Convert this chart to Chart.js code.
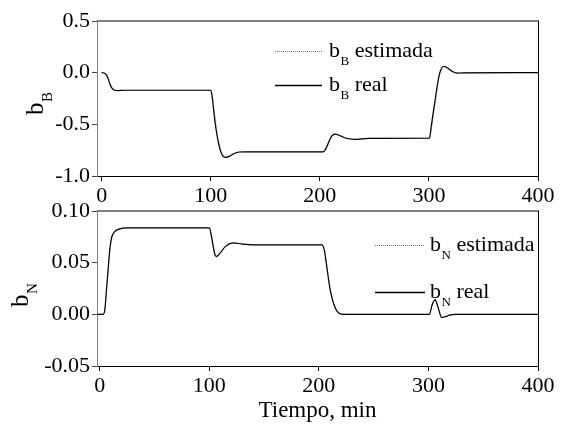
<!DOCTYPE html>
<html>
<head>
<meta charset="utf-8">
<script src="https://cdn.jsdelivr.net/npm/chart.js@4"></script>
<style>
  body { margin: 0; background: #fff; width: 564px; height: 427px; position: relative; overflow: hidden; }
  canvas { position: absolute; left: 0; }
  #chartB { top: 0; }
  #chartN { top: 200px; }
</style>
</head>
<body>
<canvas id="chartB" width="564" height="205"></canvas>
<canvas id="chartN" width="564" height="227"></canvas>
<script>
'use strict'

// datos
const tiempoB = [0, 2, 4, 6, 8, 10, 12, 15, 20,
  100, 101.5, 103, 105, 107, 109, 111, 113.5, 117, 121, 126, 132,
  203, 205, 207, 209, 211, 214, 218, 224, 232, 245,
  300.5, 302, 304, 306, 308, 310, 313.5, 317, 321, 326, 332, 400];
const realB = [0, -0.003, -0.018, -0.06, -0.125, -0.158, -0.17, -0.173, -0.17,
  -0.17, -0.25, -0.4, -0.56, -0.68, -0.76, -0.805, -0.82, -0.81, -0.785, -0.768, -0.766,
  -0.766, -0.745, -0.7, -0.65, -0.612, -0.595, -0.608, -0.635, -0.645, -0.635,
  -0.633, -0.53, -0.38, -0.24, -0.1, 0.0, 0.062, 0.045, 0.015, -0.004, -0.002, 0];
const estimadaB = [0, -0.002, -0.014, -0.05, -0.11, -0.15, -0.167, -0.173, -0.17,
  -0.17, -0.22, -0.36, -0.52, -0.65, -0.74, -0.795, -0.818, -0.812, -0.788, -0.77, -0.766,
  -0.766, -0.75, -0.71, -0.66, -0.62, -0.598, -0.605, -0.632, -0.645, -0.635,
  -0.633, -0.56, -0.42, -0.28, -0.13, -0.02, 0.055, 0.048, 0.018, -0.002, -0.002, 0];

const tiempoN = [-2.5, 3, 4.6, 6.1, 7.6, 9.1, 10.7, 13.7, 18.3, 24.4,
  100, 102, 103.5, 105, 106.6, 110, 115, 121.9, 130, 140,
  202.6, 205, 207.2, 210.3, 213.3, 216.4, 221, 230,
  301, 303, 306, 309, 312, 316, 320, 325, 400];
const realN = [0, 0, 0.004, 0.0236, 0.043, 0.062, 0.0737, 0.080, 0.0827, 0.0836,
  0.0836, 0.075, 0.066, 0.058, 0.0559, 0.0595, 0.066, 0.0692, 0.068, 0.0672,
  0.0672, 0.062, 0.046, 0.0236, 0.0107, 0.0032, 0, 0,
  0, 0.008, 0.0143, 0.006, -0.0031, -0.002, -0.0005, 0, 0];
const estimadaN = [0, 0, 0.003, 0.02, 0.039, 0.059, 0.072, 0.0795, 0.0827, 0.0836,
  0.0836, 0.077, 0.068, 0.06, 0.0565, 0.059, 0.0655, 0.069, 0.068, 0.0672,
  0.0672, 0.063, 0.049, 0.026, 0.012, 0.004, 0.0005, 0,
  0, 0.007, 0.0138, 0.007, -0.002, -0.0025, -0.0008, 0, 0];

const ticksX = [0, 100, 200, 300, 400];
const ticksB = [-1.0, -0.5, 0.0, 0.5];
const ticksN = [-0.05, 0.00, 0.05, 0.10];
const nombres = ['estimada', 'real'];
const tituloX = 'Tiempo, min';

const fuente = 'Liberation Serif';

function puntos(xs, ys) {
  return xs.map((x, i) => ({x: x, y: ys[i]}));
}

// b + subindice + resto
function textoSub(ctx, x, y, sub, resto, size, subSize) {
  ctx.font = size + 'px "' + fuente + '"';
  ctx.fillText('b', x, y);
  let w = ctx.measureText('b').width;
  ctx.font = subSize + 'px "' + fuente + '"';
  ctx.fillText(sub, x + w + 0.5, y + subSize * 0.6);
  w += ctx.measureText(sub).width + 0.5;
  if (resto) {
    ctx.font = size + 'px "' + fuente + '"';
    ctx.fillText(' ' + resto, x + w, y);
  }
}

const etiquetas = {
  id: 'etiquetas',
  afterDraw(chart, args, opts) {
    const ctx = chart.ctx;
    const a = chart.chartArea;
    ctx.save();
    // borde superior gris y derecho negro
    ctx.strokeStyle = '#808080';
    ctx.lineWidth = 2;
    ctx.beginPath();
    ctx.moveTo(a.left, a.top);
    ctx.lineTo(a.right + 1, a.top);
    ctx.stroke();
    ctx.strokeStyle = '#000';
    ctx.lineWidth = 1;
    ctx.beginPath();
    ctx.moveTo(Math.round(a.right) + 0.5, a.top);
    ctx.lineTo(Math.round(a.right) + 0.5, a.bottom);
    ctx.stroke();

    ctx.fillStyle = '#000';
    ctx.textBaseline = 'alphabetic';
    ctx.textAlign = 'left';

    // titulo eje y girado
    ctx.save();
    ctx.translate(opts.tituloX, opts.tituloY);
    ctx.rotate(-Math.PI / 2);
    textoSub(ctx, 0, 0, opts.sub, '', 25, 15);
    ctx.restore();

    // leyenda
    const L = opts.leyenda;
    ctx.lineWidth = 1;
    ctx.strokeStyle = '#777';
    ctx.setLineDash([1, 1]);
    ctx.beginPath();
    ctx.moveTo(L.x0, L.y[0] + 0.5);
    ctx.lineTo(L.x1, L.y[0] + 0.5);
    ctx.stroke();
    ctx.setLineDash([]);
    ctx.strokeStyle = '#000';
    ctx.lineWidth = 1.3;
    ctx.beginPath();
    ctx.moveTo(L.x0, L.y[1] + 0.5);
    ctx.lineTo(L.x1, L.y[1] + 0.5);
    ctx.stroke();
    for (let i = 0; i < 2; i++) {
      textoSub(ctx, L.tx, L.y[i] + 6, opts.sub, nombres[i], 22, 13);
    }
    ctx.restore();
  }
};

function opciones(min, max, ticksY, dec, xmin, pad, izq, altoX, titulo, extra) {
  return {
    responsive: false,
    animation: false,
    layout: {padding: pad},
    plugins: {
      legend: {display: false},
      tooltip: {enabled: false},
      etiquetas: extra
    },
    elements: {point: {radius: 0}},
    scales: {
      x: {
        type: 'linear',
        min: xmin,
        max: 400,
        afterBuildTicks: s => { s.ticks = ticksX.map(v => ({value: v})); },
        afterFit: s => { s.height = altoX; s.paddingLeft = 0; s.paddingRight = 0; },
        grid: {drawOnChartArea: false, tickLength: 5, color: '#000'},
        border: {color: '#000', width: 1},
        ticks: {color: '#000', padding: 2, maxRotation: 0, font: {family: fuente, size: 22}},
        title: {display: !!titulo, text: titulo, color: '#000', font: {family: fuente, size: 23}, padding: {top: 0, bottom: 2}}
      },
      y: {
        min: min,
        max: max,
        afterBuildTicks: s => { s.ticks = ticksY.map(v => ({value: v})); },
        afterFit: s => { s.width = izq; s.paddingTop = 0; s.paddingBottom = 0; },
        grid: {drawOnChartArea: false, tickLength: 5, color: '#444'},
        border: {color: '#808080', width: 1},
        ticks: {color: '#000', padding: 2, font: {family: fuente, size: 22},
          callback: v => v.toFixed(dec)}
      }
    }
  };
}

function series(xs, real, est) {
  return [{
    data: puntos(xs, real),
    borderColor: '#000',
    borderWidth: 1.2,
    cubicInterpolationMode: 'monotone',
    fill: false
  }, {
    data: puntos(xs, est),
    borderColor: '#777',
    borderWidth: 1,
    borderDash: [1, 1],
    cubicInterpolationMode: 'monotone',
    fill: false
  }];
}

new Chart(document.getElementById('chartB'), {
  type: 'line',
  data: {datasets: series(tiempoB, realB, estimadaB)},
  options: opciones(-1.0, 0.5, ticksB, 1, -4.3, {top: 21, right: 26, left: 0, bottom: 0}, 97, 29, '',
    {sub: 'B', tituloX: 43, tituloY: 115, leyenda: {x0: 275, x1: 322, tx: 329, y: [51, 85]}}),
  plugins: [etiquetas]
});

new Chart(document.getElementById('chartN'), {
  type: 'line',
  data: {datasets: series(tiempoN, realN, estimadaN)},
  options: opciones(-0.05, 0.10, ticksN, 2, -2.5, {top: 11, right: 26, left: 0, bottom: 0}, 97, 61, tituloX,
    {sub: 'N', tituloX: 28, tituloY: 107, leyenda: {x0: 375, x1: 425, tx: 430, y: [45, 92]}}),
  plugins: [etiquetas]
});
</script>
</body>
</html>
